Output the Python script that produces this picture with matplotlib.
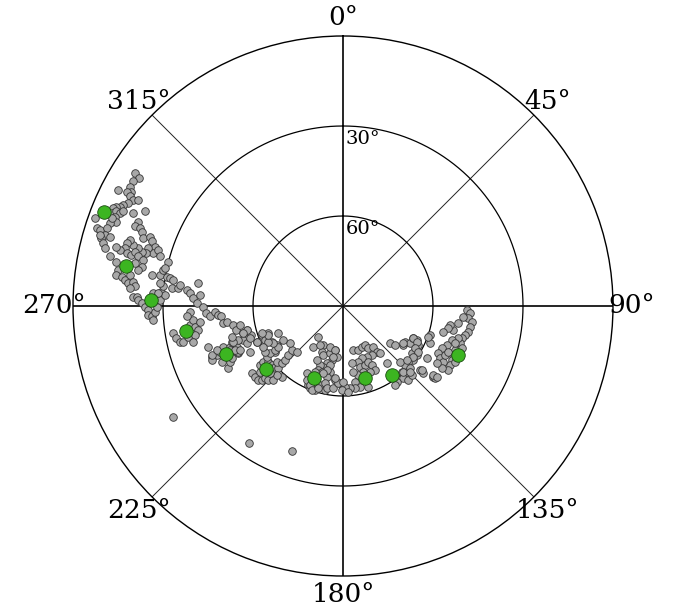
import numpy as np
import matplotlib.pyplot as plt

# Mean satellite positions (azimuth deg, elevation deg)
mean_az = [291.5, 280.4, 271.8, 261.0, 247.7, 230.7, 201.9, 163.0, 144.6, 113.1]
mean_el = [4.4, 16.4, 26.0, 37.0, 47.8, 56.8, 64.1, 64.9, 61.8, 48.3]

# Individual fixes as sky offsets from zenith (east, north) in degrees
west_band = [
    (-69.4, 44.3), (-67.9, 42.6), (-69.9, 41.5), (-71.0, 39.8), (-70.5, 38.1),
    (-72.1, 38.1), (-74.9, 38.5), (-71.0, 36.5), (-69.9, 35.4), (-68.2, 35.4),
    (-71.6, 34.3), (-73.3, 33.7), (-74.4, 33.1), (-75.5, 33.1), (-76.6, 32.6),
    (-77.1, 30.9), (-75.5, 31.5), (-74.4, 30.9), (-73.3, 31.5), (-76.0, 29.8),
    (-75.5, 28.1), (-77.7, 27.6), (-77.1, 29.3), (-82.7, 29.3), (-82.1, 25.9),
    (-81.0, 25.4), (-78.8, 25.9), (-79.4, 23.7), (-80.5, 22.6), (-79.9, 20.9),
    (-79.4, 19.2), (-77.7, 23.1), (-81.0, 23.7), (-69.9, 30.9), (-68.2, 28.1),
    (-69.4, 26.5), (-67.7, 25.9), (-66.0, 31.5), (-67.1, 24.8), (-66.6, 22.6),
    (-64.4, 23.1), (-63.8, 21.5), (-62.7, 19.8), (-63.3, 17.6), (-61.6, 18.7),
    (-61.0, 16.5), (-64.9, 19.2), (-65.5, 17.6), (-67.1, 18.1), (-68.3, 19.2),
    (-69.9, 20.3), (-71.0, 22.0), (-72.1, 20.9), (-72.7, 19.2), (-74.4, 18.7),
    (-75.5, 19.8), (-72.1, 17.6), (-70.5, 17.0), (-69.4, 18.1), (-68.3, 16.5),
    (-77.7, 16.5), (-66.6, 15.4), (-67.1, 13.1), (-68.3, 12.0), (-69.4, 14.3),
    (-63.8, 10.4), (-61.0, 10.4), (-59.9, 12.0), (-58.3, 14.8), (-59.4, 12.6),
    (-58.8, 9.8), (-57.7, 9.3), (-56.6, 8.7), (-57.1, 5.9), (-54.9, 5.9),
    (-54.4, 7.0), (-52.1, 5.4), (-51.0, 4.3), (-49.9, 2.6), (-48.3, 7.6),
    (-48.8, 0.9), (-47.7, 3.7), (-46.6, -0.2), (-45.5, -2.4), (-44.4, -3.5),
    (-42.7, -1.9), (-41.6, -3.0), (-40.5, -3.5), (-39.9, -5.7), (-38.8, -5.2),
    (-36.6, -6.3), (-35.5, -8.0), (-34.4, -6.3), (-33.3, -9.1), (-32.1, -8.0),
    (-30.5, -9.6), (-28.8, -11.9), (-27.1, -9.6), (-26.0, -11.3), (-24.9, -9.1),
    (-23.8, -11.9), (-22.1, -13.0), (-22.7, -15.2),
]

west_lower = [
    (-75.5, 14.8), (-74.9, 12.0), (-75.5, 10.4), (-73.8, 9.8), (-72.7, 8.7),
    (-71.0, 10.4), (-71.6, 7.6), (-69.9, 8.1), (-69.4, 6.5), (-71.0, 5.9),
    (-69.9, 3.1), (-68.8, 3.1), (-68.3, 2.0), (-67.1, 0.9), (-66.0, -0.2),
    (-64.9, -1.3), (-64.9, -3.0), (-63.8, -3.5), (-62.7, -1.9), (-62.1, -0.2),
    (-61.0, 2.0), (-60.5, 4.8), (-59.4, 3.7), (-59.9, 6.5), (-61.0, 7.6),
    (-63.3, -4.6), (-63.3, 4.3), (-61.6, 4.3), (-56.6, -9.1), (-55.5, -10.7),
    (-54.4, -11.9), (-53.3, -11.9), (-51.6, -10.2), (-51.0, -6.3), (-49.9, -4.6),
    (-49.4, -6.9), (-48.3, -8.0), (-49.4, -9.6), (-49.9, -11.9), (-51.0, -1.9),
    (-52.1, -3.5), (-47.7, -5.2), (-44.9, -13.5), (-43.8, -16.9), (-42.1, -16.3),
    (-41.0, -15.2), (-39.9, -13.5), (-37.7, -13.5), (-37.1, -11.9), (-36.6, -14.7),
    (-35.5, -14.1), (-34.9, -15.8), (-33.3, -11.3), (-32.1, -12.4), (-31.0, -15.2),
]

south_west = [
    (-43.7, -18.0), (-40.4, -18.6), (-38.2, -20.8), (-37.6, -18.6), (-37.1, -17.4),
    (-43.7, -16.3), (-42.1, -14.7), (-37.6, -14.7), (-34.9, -15.2), (-35.4, -13.6),
    (-30.4, -22.4), (-29.3, -23.6), (-28.2, -24.7), (-27.1, -24.7), (-26.0, -24.1),
    (-24.9, -24.7), (-23.2, -24.7), (-27.6, -21.9), (-27.6, -19.7), (-26.5, -18.6),
    (-24.9, -18.6), (-23.7, -19.7), (-22.6, -20.2), (-21.5, -20.8), (-20.4, -23.6),
    (-22.1, -23.0), (-24.3, -22.4), (-25.4, -16.9), (-24.3, -15.8), (-22.6, -14.7),
    (-21.5, -13.6), (-23.2, -12.4), (-24.9, -11.9), (-26.0, -15.2), (-26.5, -13.6),
    (-22.1, -18.6), (-20.4, -19.1), (-19.3, -18.0), (-18.2, -16.3), (-17.1, -14.7),
    (-15.4, -15.2), (-17.6, -12.4), (-19.9, -11.3), (-21.5, -9.1), (-24.9, -9.7),
    (-27.1, -9.1), (-28.8, -11.9), (-31.0, -10.8), (-32.1, -8.0), (-33.2, -9.1),
    (-34.9, -11.3), (-36.5, -11.9), (-36.0, -14.7), (-34.3, -14.7), (-37.1, -10.2),
]

south = [
    (-9.9, -13.6), (-8.2, -10.2), (-6.5, -13.0), (-7.1, -15.2), (-6.5, -16.3),
    (-4.3, -15.8), (-2.6, -14.7), (-2.1, -16.9), (-3.7, -18.0), (-5.4, -19.1),
    (-6.5, -20.2), (-7.6, -19.7), (-8.7, -18.0), (-8.2, -21.3), (-7.1, -21.9),
    (-4.3, -21.9), (-5.4, -23.6), (-11.5, -26.3), (-11.0, -27.4), (-9.3, -28.0),
    (-7.6, -26.3), (-6.0, -28.0), (-2.6, -24.7), (-1.0, -25.8), (0.1, -27.4),
    (1.2, -28.0), (-9.3, -21.9), (-12.1, -22.4), (-10.4, -25.2), (-7.7, -13.0),
    (-4.3, -13.6), (-2.7, -14.7), (-3.2, -16.9), (-4.3, -19.7), (-5.4, -21.3),
    (-6.6, -22.4), (-6.0, -25.8), (-5.4, -27.4), (-3.2, -27.4), (-1.6, -25.8),
    (-2.7, -24.1), (-12.1, -24.7), (-11.0, -26.3), (-10.4, -28.0), (-8.2, -27.4),
]

south_east = [
    (3.4, -14.7), (5.1, -14.7), (6.2, -13.6), (7.3, -13.0), (8.4, -14.1),
    (10.1, -13.6), (11.2, -15.2), (12.3, -15.8), (9.6, -16.3), (7.9, -16.9),
    (6.2, -17.4), (5.1, -18.6), (5.7, -20.2), (7.3, -19.7), (8.4, -18.6),
    (9.6, -19.7), (10.7, -21.3), (9.0, -21.9), (6.8, -21.9), (5.1, -23.0),
    (3.4, -21.9), (4.0, -25.2), (5.7, -26.9), (4.0, -27.4), (2.3, -27.4),
    (0.7, -26.9), (-0.4, -28.0), (1.8, -28.6), (0.1, -25.2), (2.9, -19.1),
    (8.4, -26.9), (14.6, -19.1), (15.7, -12.4), (17.3, -13.0), (20.1, -13.0),
    (20.7, -11.9), (22.3, -12.4), (23.4, -10.8), (24.6, -11.3), (25.1, -13.0),
    (24.0, -14.7), (22.9, -15.8), (24.6, -16.3), (23.4, -18.0), (21.8, -18.6),
    (20.7, -19.7), (19.6, -21.9), (20.1, -24.1), (21.8, -24.7), (21.2, -21.9),
    (22.3, -20.8), (22.9, -23.0), (17.9, -25.2), (17.3, -26.3), (19.0, -18.6),
    (25.7, -21.3), (26.8, -22.4), (30.1, -23.6), (30.7, -24.1), (29.0, -9.7),
    (27.9, -17.4),
]

east = [
    (41.2, -1.3), (42.3, -2.4), (41.8, -4.1), (42.9, -5.2), (42.3, -6.9),
    (41.8, -8.6), (40.7, -9.7), (39.6, -10.8), (39.0, -12.4), (39.6, -14.1),
    (37.3, -14.7), (36.8, -16.3), (36.2, -18.0), (35.7, -19.7), (35.1, -21.3),
    (37.3, -18.6), (38.4, -10.8), (36.8, -8.0), (35.7, -6.3), (35.1, -7.4),
    (33.4, -8.6), (36.2, -11.3), (37.3, -12.4), (34.6, -13.0), (32.9, -14.1),
    (31.8, -15.8), (32.3, -17.4), (33.4, -18.6), (32.9, -20.8), (31.2, -19.1),
    (34.0, -16.3), (35.1, -15.2), (38.4, -5.8), (40.1, -3.6), (30.1, -23.0),
    (31.2, -23.6), (23.4, -10.8), (24.6, -11.9), (24.0, -14.1), (25.1, -15.2),
    (23.4, -16.9), (26.2, -21.3), (29.0, -12.4), (28.4, -10.2), (20.1, -12.4),
    (21.2, -18.0), (20.1, -21.9), (22.3, -21.9),
]

outliers = [(-56.6, -36.9), (-31.4, -45.6), (-16.9, -48.2)]

groups = [west_band, west_lower, south_west, south, south_east, east, outliers]
offsets = np.array([p for g in groups for p in g])
gray_theta = np.arctan2(offsets[:, 0], offsets[:, 1])
gray_r = np.hypot(offsets[:, 0], offsets[:, 1])

fig = plt.figure(figsize=(6.79, 6.06), dpi=100)
ax = fig.add_axes([0.1075, 0.0495, 0.7953, 0.8911], projection='polar')
ax.set_theta_zero_location('N')
ax.set_theta_direction(-1)
ax.set_rlim(0, 90)

ax.set_yticks([30, 60])
ax.set_yticklabels([])
ax.set_xticks(np.radians(np.arange(0, 360, 45)))
ax.set_xticklabels([f"{a}°" for a in range(0, 360, 45)],
                   fontfamily='DejaVu Serif', fontsize=19)
ax.tick_params(axis='x', pad=3)
ax.grid(False)

# grid drawn by hand: main axes heavier, diagonals lighter
for a in range(0, 360, 45):
    lw, col = (1.2, 'black') if a % 90 == 0 else (0.7, '#222222')
    ax.plot([np.radians(a)] * 2, [0, 90], color=col, lw=lw, zorder=1)
circ = np.linspace(0, 2 * np.pi, 361)
for r in [30, 60]:
    ax.plot(circ, np.full_like(circ, r), color='black', lw=0.9, zorder=1)
ax.spines['polar'].set_linewidth(1.0)

for r, lab in [(60, "30°"), (30, "60°")]:
    ax.annotate(lab, xy=(0, r), xytext=(2, -3), textcoords='offset points',
                ha='left', va='top', fontfamily='DejaVu Serif', fontsize=14)

ax.scatter(gray_theta, gray_r, s=30, c='#a8a8a8', edgecolors='#333333',
           linewidths=0.6, zorder=3)
ax.scatter(np.radians(mean_az), 90 - np.array(mean_el), s=95, c='#3cb521',
           edgecolors='#1a4a10', linewidths=0.6, zorder=4)

fig.savefig("out.png", dpi=100)
